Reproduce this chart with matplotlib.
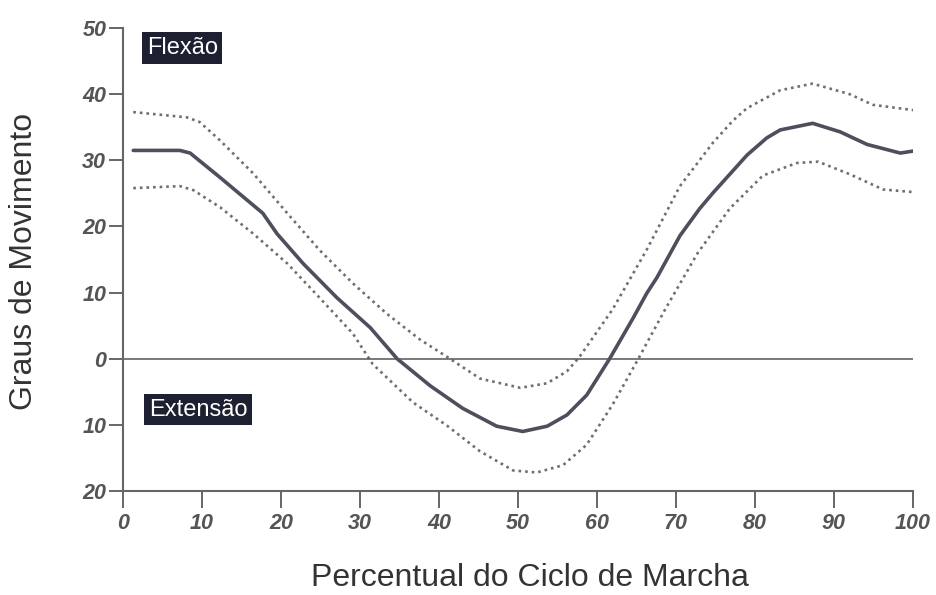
import numpy as np
import matplotlib.pyplot as plt

# --- data (gait cycle %, degrees)
x_mean = [1.3, 7.2, 8.5, 12.3, 16.5, 17.7, 19.5, 22.8, 27.1, 31.3, 34.7, 38.9, 43.0, 47.3,
          50.6, 53.7, 56.2, 58.7, 61.6, 64.6, 66.3, 67.6, 70.5, 73.0, 74.7, 79.0, 81.5,
          83.2, 87.3, 90.8, 94.2, 98.4, 100.0]
y_mean = [31.5, 31.5, 31.1, 27.4, 23.2, 22.0, 18.9, 14.4, 9.2, 4.7, 0.0, -4.1, -7.5, -10.2,
          -11.0, -10.2, -8.5, -5.5, 0.0, 6.2, 9.9, 12.3, 18.6, 22.7, 25.1, 30.8, 33.4,
          34.6, 35.6, 34.3, 32.4, 31.1, 31.4]

x_upper = [1.3, 8.1, 9.7, 12.3, 16.5, 20.8, 24.9, 29.1, 33.4, 37.6, 41.0, 45.2, 50.3, 53.7,
           56.2, 57.8, 62.0, 66.3, 70.5, 74.7, 77.2, 79.0, 83.2, 87.3, 92.0, 94.9, 100.0]
y_upper = [37.3, 36.5, 35.8, 33.0, 28.0, 22.0, 16.4, 11.4, 6.8, 2.9, 0.3, -3.0, -4.4, -3.7,
           -1.9, 0.3, 7.5, 16.5, 26.1, 32.7, 36.0, 37.9, 40.6, 41.6, 40.0, 38.4, 37.6]

x_lower = [1.3, 7.2, 8.9, 12.3, 16.5, 20.8, 24.9, 29.1, 31.6, 36.7, 41.0, 45.2, 49.4, 52.4,
           55.7, 58.7, 62.0, 65.1, 68.6, 72.7, 76.8, 81.0, 85.3, 88.0, 92.0, 96.2, 100.0]
y_lower = [25.8, 26.1, 25.5, 22.9, 18.9, 14.4, 9.2, 3.8, -0.8, -6.6, -10.1, -14.0, -16.9, -17.2,
           -16.1, -13.0, -6.9, -0.3, 7.4, 15.9, 22.7, 27.7, 29.6, 29.8, 27.9, 25.6, 25.2]

xticks = [0, 10, 20, 30, 40, 50, 60, 70, 80, 90, 100]
yticks = [-20, -10, 0, 10, 20, 30, 40, 50]
ytick_labels = ['20', '10', '0', '10', '20', '30', '40', '50']

fig = plt.figure(figsize=(9.36, 5.95), dpi=100)
ax = fig.add_axes([0.1314, 0.1748, 0.844, 0.778])

ax.plot(x_mean, y_mean, color='#4d505c', lw=2.6, solid_capstyle='round', solid_joinstyle='round')
ax.plot(x_upper, y_upper, color='#6e6e74', lw=1.9, ls=(0, (1, 1.5)))
ax.plot(x_lower, y_lower, color='#6e6e74', lw=1.9, ls=(0, (1, 1.5)))
ax.plot([0, 100], [0, 0], color='#555', lw=1.1)

ax.set_xlim(0, 100)
ax.set_ylim(-20, 50)

for s in ['top', 'right']:
    ax.spines[s].set_visible(False)
for s in ['left', 'bottom']:
    ax.spines[s].set_color('#666')
    ax.spines[s].set_linewidth(1.5)

tick_font = dict(family='Liberation Sans', weight='bold', style='italic', size=15.5, color='#555')
ax.set_xticks(xticks)
ax.set_xticklabels([str(t) for t in xticks], **tick_font)
ax.set_yticks(yticks)
ax.set_yticklabels(ytick_labels, **tick_font)
ax.tick_params(axis='x', direction='out', length=12, width=1.4, color='#666', pad=4)
ax.tick_params(axis='y', direction='out', length=10, width=1.4, color='#666', pad=2)

ax.set_ylabel('Graus de Movimento', fontsize=23, color='#333', family='Liberation Sans')
ax.set_xlabel('Percentual do Ciclo de Marcha', fontsize=23, color='#333', family='Liberation Sans')
ax.yaxis.set_label_coords(-0.106, 0.495)
ax.xaxis.set_label_coords(0.515, -0.155)

box = dict(boxstyle='square,pad=0.2', facecolor='#1c2030', edgecolor='none')
ax.text(3.0, 47.0, 'Flexão', fontsize=17, color='white', family='Liberation Sans',
        va='center', ha='left', bbox=box)
ax.text(3.3, -7.7, 'Extensão', fontsize=17, color='white', family='Liberation Sans',
        va='center', ha='left', bbox=box)

fig.savefig('out.png', dpi=100)
